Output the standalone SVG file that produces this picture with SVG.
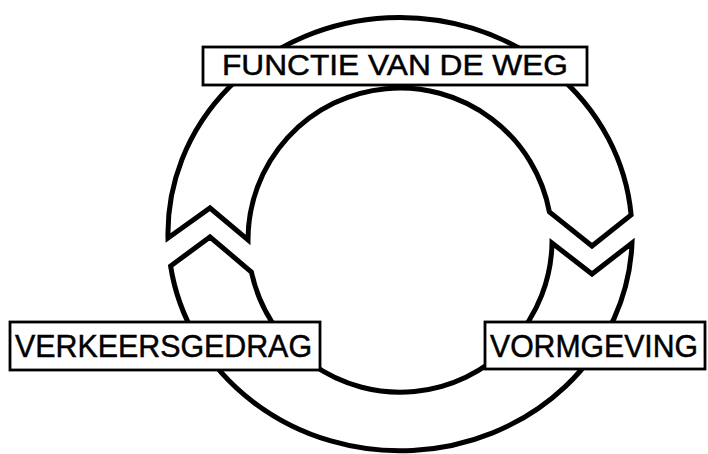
<svg xmlns="http://www.w3.org/2000/svg" width="708" height="454" viewBox="0 0 708 454">
<style>
.seg{fill:#fff;stroke:#000;stroke-width:5;stroke-linejoin:miter}
.box{fill:#fff;stroke:#000;stroke-width:2.8}
.lbl{font-family:"Liberation Sans",Arial,sans-serif;fill:#000;stroke:#000;stroke-width:0.5}
</style>
<rect width="708" height="454" fill="#fff"/>
<g id="ring">
<path id="seg-top" class="seg" d="M168,238 A232,216 0 0 1 631.1,215 L592,246 L549.4,212 A152,152 0 0 0 248,240 L210,208 Z"/>
<path id="seg-bottom" class="seg" d="M632,243 A232,216 0 0 1 170.6,266 L210,237 L251.4,272 A152,152 0 0 0 552,243 L592,274 Z"/>
</g>
<g id="functie">
<rect class="box" x="203" y="47" width="384" height="38"/>
<text class="lbl" x="222" y="75" font-size="30" textLength="346" lengthAdjust="spacingAndGlyphs">FUNCTIE VAN DE WEG</text>
</g>
<g id="verkeersgedrag">
<rect class="box" x="10" y="322" width="310" height="48"/>
<text class="lbl" x="15" y="357" font-size="32" textLength="297" lengthAdjust="spacingAndGlyphs">VERKEERSGEDRAG</text>
</g>
<g id="vormgeving">
<rect class="box" x="485" y="322" width="220" height="47"/>
<text class="lbl" x="490" y="357" font-size="32" textLength="208" lengthAdjust="spacingAndGlyphs">VORMGEVING</text>
</g>
</svg>
